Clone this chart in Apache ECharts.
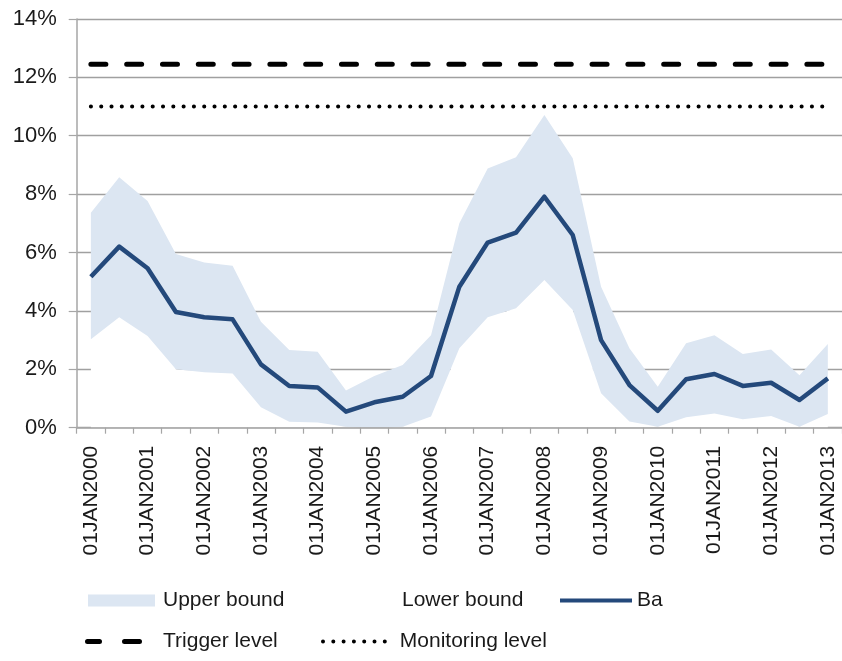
<!DOCTYPE html>
<html>
<head>
<meta charset="utf-8">
<script src="https://cdn.jsdelivr.net/npm/echarts@6/dist/echarts.min.js"></script>
<style>
html,body{margin:0;padding:0;background:#fff;}
#chart{width:842px;height:661px;}
</style>
</head>
<body>
<div id="chart"></div>
<script>
// Categories: semi-annual dates
const categories = [
  '01JAN2000','01JUL2000','01JAN2001','01JUL2001','01JAN2002','01JUL2002',
  '01JAN2003','01JUL2003','01JAN2004','01JUL2004','01JAN2005','01JUL2005',
  '01JAN2006','01JUL2006','01JAN2007','01JUL2007','01JAN2008','01JUL2008',
  '01JAN2009','01JUL2009','01JAN2010','01JUL2010','01JAN2011','01JUL2011',
  '01JAN2012','01JUL2012','01JAN2013'
];
// Values in %
const ba = [5.17, 6.20, 5.46, 3.96, 3.78, 3.71, 2.17, 1.43, 1.38, 0.55, 0.87, 1.06, 1.77,
            4.83, 6.34, 6.68, 7.91, 6.60, 3.00, 1.46, 0.58, 1.66, 1.84, 1.43, 1.54, 0.95, 1.69];
const upperBound = [7.36, 8.58, 7.76, 5.95, 5.66, 5.55, 3.63, 2.66, 2.60, 1.27, 1.77, 2.15, 3.17,
                    7.00, 8.88, 9.26, 10.71, 9.23, 4.83, 2.72, 1.40, 2.89, 3.17, 2.52, 2.68, 1.80, 2.87];
const lowerBound = [3.03, 3.78, 3.14, 2.00, 1.90, 1.86, 0.70, 0.20, 0.18, 0.03, 0.00, 0.03, 0.38,
                    2.72, 3.78, 4.09, 5.06, 4.03, 1.18, 0.21, 0.03, 0.36, 0.49, 0.29, 0.40, 0.03, 0.47];
const triggerLevel = 12.45;
const monitoringLevel = 11.0;
const yTicks = { min: 0, max: 14, interval: 2 };

const FONT = "'Liberation Sans', Arial, Helvetica, sans-serif";
const TXT = '#1a1a1a';
const bandColor = '#DCE6F2';
const baColor = '#24497B';

const bandDiff = upperBound.map((u, i) => +(u - lowerBound[i]).toFixed(3));
const triggerData = categories.map(() => triggerLevel);
const monitoringData = categories.map(() => monitoringLevel);

// legend icon paths (pure decoration)
const dashIcon = 'path://M2.5,0h12a2.5,2.5 0 0 1 0,5h-12a2.5,2.5 0 0 1 0,-5z M39.5,0h15a2.5,2.5 0 0 1 0,5h-15a2.5,2.5 0 0 1 0,-5z';
let dotPath = 'path://';
for (let k = 0; k < 7; k++) {
  const cx = 2 + k * 10.3;
  dotPath += 'M' + (cx - 2).toFixed(2) + ',2a2,2 0 1,0 4,0a2,2 0 1,0 -4,0z ';
}

const chart = echarts.init(document.getElementById('chart'), null, { renderer: 'canvas' });

function legend(item, left, top, w, h, padLeft) {
  return {
    show: true,
    data: [item],
    left: left,
    top: top,
    itemWidth: w,
    itemHeight: h,
    padding: 0,
    selectedMode: false,
    textStyle: { fontFamily: FONT, fontSize: 21, color: TXT, padding: [0, 0, 0, padLeft] }
  };
}

chart.setOption({
  backgroundColor: '#fff',
  animation: false,
  grid: { left: 76.7, top: 18.9, width: 770.6, height: 408.8, containLabel: false },
  legend: [
    legend({ name: 'Upper bound', icon: 'rect', itemStyle: { color: bandColor } }, 88, 590, 67, 12, 3),
    legend({ name: 'Lower bound', icon: 'rect', itemStyle: { color: 'rgba(255,255,255,0)', opacity: 0 } }, 330, 590, 67, 12, 0),
    legend({ name: 'Ba', icon: 'rect', itemStyle: { color: baColor } }, 560, 590, 72, 4, 0),
    legend({ name: 'Trigger level', icon: dashIcon, itemStyle: { color: '#000' } }, 85, 631, 57, 5, 16),
    legend({ name: 'Monitoring level', icon: dotPath, itemStyle: { color: '#000' } }, 321, 631, 71.8, 4, 5)
  ],
  xAxis: {
    type: 'category',
    data: categories,
    boundaryGap: true,
    z: 3,
    axisLine: { show: true, lineStyle: { color: '#a6a6a6', width: 1.5 } },
    axisTick: { show: true, interval: 0, length: 6, lineStyle: { color: '#a6a6a6', width: 1.2 } },
    axisLabel: {
      interval: 1,
      rotate: 90,
      margin: 18,
      fontFamily: FONT,
      fontSize: 21,
      color: TXT
    },
    splitLine: { show: false }
  },
  yAxis: {
    type: 'value',
    min: yTicks.min,
    max: yTicks.max,
    interval: yTicks.interval,
    axisLine: { show: true, lineStyle: { color: '#a6a6a6', width: 1.5 } },
    axisTick: { show: true, length: 8, lineStyle: { color: '#a6a6a6', width: 1.2 } },
    axisLabel: {
      formatter: '{value}%',
      margin: 20,
      fontFamily: FONT,
      fontSize: 22,
      color: TXT
    },
    splitLine: { show: true, lineStyle: { color: '#a0a0a0', width: 1.3 } }
  },
  series: [
    {
      name: 'Lower bound',
      type: 'line',
      stack: 'band',
      data: lowerBound,
      symbol: 'none',
      lineStyle: { width: 0, opacity: 0 },
      itemStyle: { color: '#ffffff' },
      areaStyle: { color: '#ffffff', opacity: 1 },
      z: 2
    },
    {
      name: 'Upper bound',
      type: 'line',
      stack: 'band',
      data: bandDiff,
      symbol: 'none',
      lineStyle: { width: 0, opacity: 0 },
      itemStyle: { color: bandColor },
      areaStyle: { color: bandColor, opacity: 1 },
      z: 2
    },
    {
      name: 'Ba',
      type: 'line',
      data: ba,
      symbol: 'none',
      itemStyle: { color: baColor },
      lineStyle: { color: baColor, width: 4.5, join: 'round' },
      z: 4
    },
    {
      name: 'Trigger level',
      type: 'line',
      data: triggerData,
      symbol: 'none',
      itemStyle: { color: '#000' },
      lineStyle: { color: '#000', width: 5, type: [15, 20.8], cap: 'round' },
      z: 4
    },
    {
      name: 'Monitoring level',
      type: 'line',
      data: monitoringData,
      symbol: 'none',
      itemStyle: { color: '#000' },
      lineStyle: { color: '#000', width: 4, type: [0.1, 10.2], cap: 'round' },
      z: 4
    }
  ]
});
</script>
</body>
</html>
